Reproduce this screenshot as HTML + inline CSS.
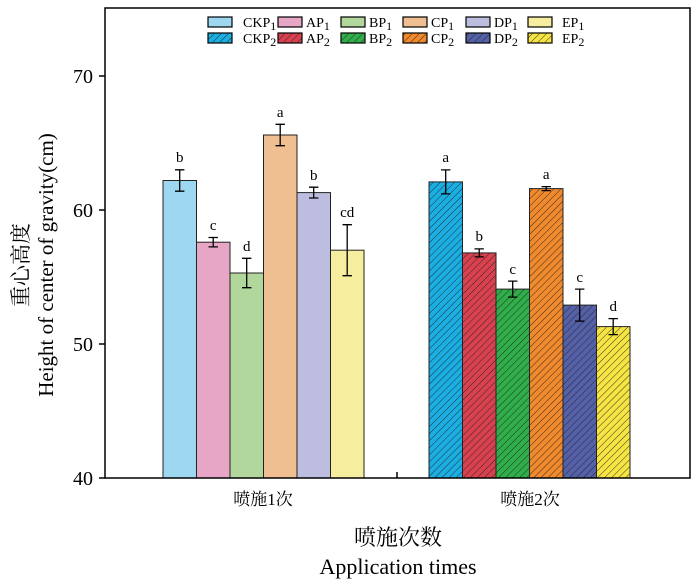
<!DOCTYPE html><html><head><style>body{margin:0;background:#fff}svg{display:block}text{font-family:"Liberation Serif","Noto Serif CJK SC",serif;fill:#000}</style></head><body>
<svg width="700" height="587" xmlns="http://www.w3.org/2000/svg">
<defs><pattern id="h" width="5" height="5" patternUnits="userSpaceOnUse" patternTransform="rotate(45)"><line x1="0" y1="0" x2="0" y2="5" stroke="#222" stroke-width="0.9"/></pattern></defs>
<g stroke="#222" stroke-width="1">
<rect x="163" y="180.5" width="33.5" height="297.5" fill="#9ed8f0"/>
<rect x="196.5" y="242.2" width="33.5" height="235.8" fill="#e8a6c6"/>
<rect x="230" y="273" width="33.5" height="205" fill="#b2d79c"/>
<rect x="263.5" y="135" width="33.5" height="343" fill="#efbf92"/>
<rect x="297" y="192.6" width="33.5" height="285.4" fill="#bdbde0"/>
<rect x="330.5" y="250.2" width="33.5" height="227.8" fill="#f6ee9e"/>
<rect x="429" y="181.9" width="33.5" height="296.1" fill="#1aaee2"/>
<rect x="462.5" y="252.9" width="33.5" height="225.1" fill="#d9414f"/>
<rect x="496" y="289.1" width="33.5" height="188.9" fill="#2fae49"/>
<rect x="529.5" y="188.6" width="33.5" height="289.4" fill="#f08a2c"/>
<rect x="563" y="305.1" width="33.5" height="172.9" fill="#5460a8"/>
<rect x="596.5" y="326.6" width="33.5" height="151.4" fill="#f6e443"/>
</g>
<g fill="url(#h)" stroke="none">
<rect x="429" y="181.9" width="33.5" height="296.1"/><rect x="462.5" y="252.9" width="33.5" height="225.1"/><rect x="496" y="289.1" width="33.5" height="188.9"/><rect x="529.5" y="188.6" width="33.5" height="289.4"/><rect x="563" y="305.1" width="33.5" height="172.9"/><rect x="596.5" y="326.6" width="33.5" height="151.4"/>
</g>
<g stroke="#000" stroke-width="1.3" fill="none">
<path d="M179.7 169.8V191.2M175 169.8h9.4M175 191.2h9.4"/>
<path d="M213.2 237.5V246.9M208.5 237.5h9.4M208.5 246.9h9.4"/>
<path d="M246.7 258.3V287.7M242 258.3h9.4M242 287.7h9.4"/>
<path d="M280.2 124.3V145.7M275.5 124.3h9.4M275.5 145.7h9.4"/>
<path d="M313.7 187.2V198M309 187.2h9.4M309 198h9.4"/>
<path d="M347.2 224.7V275.7M342.5 224.7h9.4M342.5 275.7h9.4"/>
<path d="M445.7 169.9V193.9M441 169.9h9.4M441 193.9h9.4"/>
<path d="M479.2 248.9V256.9M474.5 248.9h9.4M474.5 256.9h9.4"/>
<path d="M512.7 281.1V297.1M508 281.1h9.4M508 297.1h9.4"/>
<path d="M546.2 186.6V190.6M541.5 186.6h9.4M541.5 190.6h9.4"/>
<path d="M579.7 289.1V321.1M575 289.1h9.4M575 321.1h9.4"/>
<path d="M613.2 318.6V334.6M608.5 318.6h9.4M608.5 334.6h9.4"/>
</g>
<g font-size="15" text-anchor="middle">
<text x="179.7" y="162">b</text><text x="213.2" y="230">c</text><text x="246.7" y="251">d</text><text x="280.2" y="117">a</text><text x="313.7" y="180">b</text><text x="347.2" y="217">cd</text>
<text x="445.7" y="162">a</text><text x="479.2" y="241">b</text><text x="512.7" y="274">c</text><text x="546.2" y="179">a</text><text x="579.7" y="282">c</text><text x="613.2" y="311">d</text>
</g>
<rect x="105" y="8" width="585" height="470" fill="none" stroke="#000" stroke-width="1.5"/>
<g stroke="#000" stroke-width="1.5"><path d="M105 76h-6M105 210h-6M105 344h-6M105 478h-6M397 478v-6"/></g>
<g font-size="20" text-anchor="end"><text x="93" y="83">70</text><text x="93" y="217">60</text><text x="93" y="351">50</text><text x="93" y="485">40</text></g>
<g font-size="17" text-anchor="middle"><text x="263" y="505">喷施1次</text><text x="530" y="505">喷施2次</text></g>
<text x="398" y="545" font-size="22" text-anchor="middle">喷施次数</text>
<text x="398" y="574" font-size="22" text-anchor="middle">Application times</text>
<text transform="translate(28,265) rotate(-90)" font-size="21" text-anchor="middle">重心高度</text>
<text transform="translate(53,265) rotate(-90)" font-size="21" text-anchor="middle">Height of center of gravity(cm)</text>
<g stroke="#000" stroke-width="1.2">
<rect x="208" y="17" width="24" height="10" fill="#9ed8f0"/><rect x="278" y="17" width="24" height="10" fill="#e8a6c6"/><rect x="341" y="17" width="24" height="10" fill="#b2d79c"/><rect x="403" y="17" width="24" height="10" fill="#efbf92"/><rect x="466" y="17" width="24" height="10" fill="#bdbde0"/><rect x="528" y="17" width="24" height="10" fill="#f6ee9e"/>
<rect x="208" y="33" width="24" height="10" fill="#1aaee2"/><rect x="278" y="33" width="24" height="10" fill="#d9414f"/><rect x="341" y="33" width="24" height="10" fill="#2fae49"/><rect x="403" y="33" width="24" height="10" fill="#f08a2c"/><rect x="466" y="33" width="24" height="10" fill="#5460a8"/><rect x="528" y="33" width="24" height="10" fill="#f6e443"/>
</g>
<g fill="url(#h)"><rect x="208" y="33" width="24" height="10"/><rect x="278" y="33" width="24" height="10"/><rect x="341" y="33" width="24" height="10"/><rect x="403" y="33" width="24" height="10"/><rect x="466" y="33" width="24" height="10"/><rect x="528" y="33" width="24" height="10"/></g>
<g font-size="14">
<text x="243" y="27">CKP<tspan font-size="12" dy="3">1</tspan></text><text x="306" y="27">AP<tspan font-size="12" dy="3">1</tspan></text><text x="369" y="27">BP<tspan font-size="12" dy="3">1</tspan></text><text x="431" y="27">CP<tspan font-size="12" dy="3">1</tspan></text><text x="494" y="27">DP<tspan font-size="12" dy="3">1</tspan></text><text x="562" y="27">EP<tspan font-size="12" dy="3">1</tspan></text>
<text x="243" y="43">CKP<tspan font-size="12" dy="3">2</tspan></text><text x="306" y="43">AP<tspan font-size="12" dy="3">2</tspan></text><text x="369" y="43">BP<tspan font-size="12" dy="3">2</tspan></text><text x="431" y="43">CP<tspan font-size="12" dy="3">2</tspan></text><text x="494" y="43">DP<tspan font-size="12" dy="3">2</tspan></text><text x="562" y="43">EP<tspan font-size="12" dy="3">2</tspan></text>
</g>
</svg></body></html>
